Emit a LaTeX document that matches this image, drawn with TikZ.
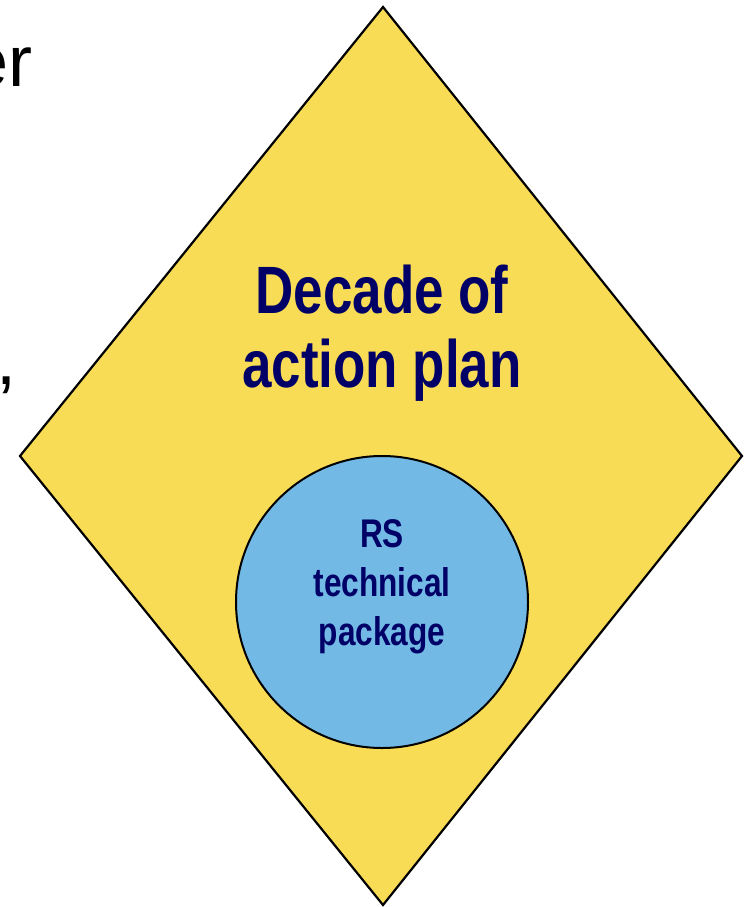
\documentclass[tikz,border=0pt]{standalone}
\usepackage{fontspec}
\setmainfont{Liberation Sans}
\newfontfamily\narrowbold[FakeStretch=0.79]{Liberation Sans Bold}

\definecolor{diamondyellow}{RGB}{249,220,85}
\definecolor{circleblue}{RGB}{114,185,230}
\definecolor{labelnavy}{RGB}{0,0,102}

\begin{document}
\begin{tikzpicture}[x=1pt, y=-1pt,
    outline/.style={draw=black, line width=2.2pt, line join=miter},
    biglabel/.style={text=labelnavy, align=center, font=\narrowbold\fontsize{67}{74}\selectfont},
    smalllabel/.style={text=labelnavy, align=center, font=\narrowbold\fontsize{40}{49}\selectfont}]

\useasboundingbox (0,0) rectangle (744,907);

% Text cut off at the left border
\node[anchor=base east, inner sep=0pt, font=\fontsize{72}{80}\selectfont] (cutword) at (33,86) {er};
\node[anchor=base east, inner sep=0pt, font=\fontsize{72}{80}\selectfont] (cutcomma) at (17,384) {,};

% Rombo amarelo
\coordinate (top) at (383,7);
\coordinate (right) at (742,456);
\coordinate (bottom) at (383,905);
\coordinate (left) at (20,456);
\filldraw[outline, fill=diamondyellow] (top) -- (right) -- (bottom) -- (left) -- cycle;

% base = baseline of the last line
\node[biglabel, anchor=base] (plan) at (382,387) {Decade of\\action plan};

% Círculo azul
\filldraw[outline, fill=circleblue, line width=2pt] (382,602) circle (146);
\node[smalllabel, anchor=base] (package) at (382,645) {RS\\technical\\package};

\end{tikzpicture}
\end{document}
